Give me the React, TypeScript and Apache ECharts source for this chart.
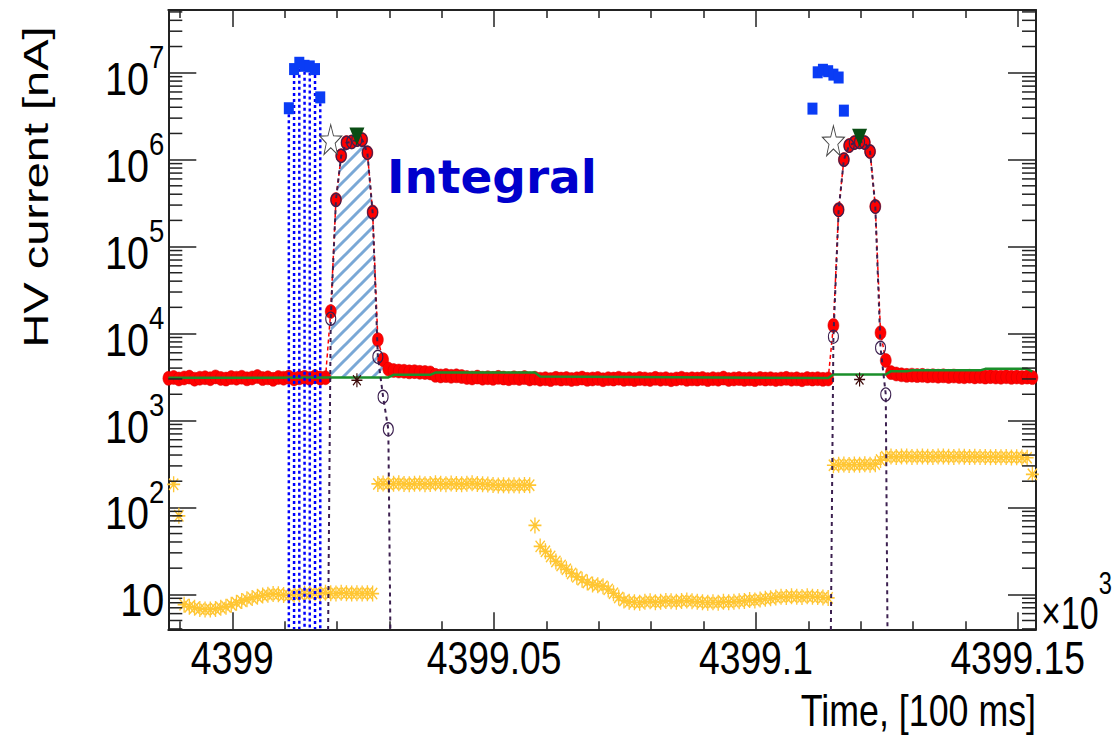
import React, { useEffect, useRef } from 'react';
import * as echarts from 'echarts';

// ---------- axes ----------
const X_MIN = 4398.98778;
const X_MAX = 4399.15349;
const Y_MIN = 3.96;
const Y_MAX = 5.26e7;
const xTickLabels = ['4399', '4399.05', '4399.1', '4399.15'];
const yTickExponents = [1, 2, 3, 4, 5, 6, 7];

// ---------- sampling (time of sample index i = T0 + i*DT) ----------
const T0 = 4398.9878;
const DT = 0.001;

// ---------- red: HV current (start index 0) ----------
const redPre = [3050, 3120, 3000, 3080, 3150, 2980, 3060, 3100, 3020, 3170, 3040, 2990, 3110, 3060, 3140, 3010, 3080, 3200, 3030, 3090, 2970, 3120, 3060, 3150, 3000, 3090, 3130, 3040, 3180, 3070, 3100];
const redPeak1 = [17900, 347000, 1110000, 1570000, 1600000, 1700000, 1700000, 1200000, 250000, 8500, 5000, 3900];
const redMid = [
  3750, 3700, 3680, 3620, 3640, 3580, 3560, 3520,
  3300, 3250, 3280, 3220, 3260, 3200,
  3120, 3080, 3150, 3060, 3100, 3050, 3130, 3070, 3020, 3090, 3040, 3110, 3000, 3060,
  2980, 3020, 2950, 3050, 2990, 3030, 2960, 3010,
  3070, 2970, 3000, 3040, 2940, 3020, 2990, 3060,
  2970, 3010, 2950, 3030, 3000, 2960, 3050, 2980,
  3020, 2940, 3000, 3060, 2970, 3010, 2990, 3040,
  2950, 3020, 2980, 3070, 2960, 3000, 3030, 2970,
  3010, 2950, 3040, 2990, 3020, 2960, 3000, 3050,
  2980, 3010, 2940, 3030, 2990, 3020, 2970, 3000,
];
const redPeak2 = [12400, 266000, 1000000, 1450000, 1570000, 1600000, 1570000, 1240000, 290000, 10200, 4900];
const redPost = [3550, 3420, 3350, 3300, 3320, 3280, 3300, 3250, 3270, 3230, 3260, 3210, 3240, 3200, 3180, 3220, 3170, 3200, 3150, 3190, 3160, 3140, 3180, 3130, 3160, 3120, 3150, 3110];

// ---------- green: baseline (sample index, value) ----------
const greenIdx = [0, 30, 42, 43, 50, 51, 70, 71, 126, 127, 137, 138, 141, 142, 155, 156, 164, 165];
const greenVal = [3100, 3110, 3120, 3350, 3350, 3550, 3550, 3200, 3080, 3380, 3380, 3690, 3690, 3770, 3770, 3920, 3920, 3650];

// ---------- baseline-subtracted pulses (open circles) ----------
const open1Start = 30;
const open1 = [0.001, 14800, 344000, 1107000, 1567000, 1597000, 1697000, 1697000, 1197000, 247000, 5400, 1870, 790, 0.001];
const open2Start = 126;
const open2 = [0.001, 9200, 263000, 997000, 1447000, 1567000, 1597000, 1567000, 1237000, 287000, 6850, 1990, 0.00001];

// ---------- blue squares ----------
const blue1Start = 23;
const blue1 = [3900000, 11000000, 13000000, 12000000, 11800000, 11000000, 5200000];
const blue2Start = 123;
const blue2 = [3860000, 10100000, 10800000, 10400000, 9500000, 8800000, 3660000];

// ---------- markers ----------
const starIdx = [31, 127];
const starVal = [1700000, 1650000];
const triIdx = [36, 132];
const triVal = [1850000, 1780000];
const astIdx = [36, 132];
const astVal = [2900, 2960];

// ---------- yellow (start index 1) ----------
const yelA = [184, 80];
const yelLow1 = [7.6, 7.2, 7.0, 6.8, 6.7, 6.7, 6.8, 7.0, 7.2, 7.6, 8.0, 8.4, 8.8, 9.1, 9.4, 9.7, 9.9, 10.1, 10.0, 9.8, 9.7, 9.9, 10.0, 10.2, 10.1, 10.3, 10.2, 10.4, 10.3, 10.2, 10.4, 10.3, 10.2, 10.3, 10.2, 10.3, 10.2];
const yelHigh1 = [186, 188, 185, 187, 189, 186, 184, 187, 188, 185, 186, 189, 187, 185, 188, 186, 184, 187, 189, 186, 185, 183, 181, 179, 180, 178, 180, 179, 181, 180];
const yelOne = [62];
const yelDecay = [35.6, 31.2, 27.3, 23.9, 21.5, 19.4, 17.4, 15.9, 14.7, 13.7, 13.0, 12.7, 12.4, 11.4, 10.3, 9.2, 8.5, 8.2];
const yelLow2 = [8.1, 8.0, 8.2, 8.3, 8.1, 8.2, 8.4, 8.3, 8.2, 8.4, 8.5, 8.3, 8.2, 8.1, 8.0, 8.1, 8.0, 8.2, 8.1, 8.2, 8.3, 8.4, 8.6, 8.5, 8.7, 8.9, 9.0, 9.2, 9.4, 9.3, 9.5, 9.4, 9.3, 9.5, 9.4, 9.3, 9.2, 9.1];
const yelHigh2 = [305, 310, 312, 308, 311, 309, 313, 310, 314, 350, 382, 385, 380, 384, 386, 381, 383, 385, 382, 380, 384, 386, 383, 381, 385, 382, 380, 383, 379, 381, 378, 380, 377, 379, 376, 378, 375, 372, 240];

// hatched integral region: red samples 31..41 above baseline
const hatchFrom = 31;
const hatchTo = 41;
const hatchBase = 3120;

const tOf = (i: number) => T0 + i * DT;
const pts = (start: number, vals: number[]) => vals.map((v, i) => [tOf(start + i), v]);

const STAR = 'path://M0,-10L2.35,-3.24L9.51,-3.09L3.8,1.24L5.88,8.09L0,4L-5.88,8.09L-3.8,1.24L-9.51,-3.09L-2.35,-3.24Z';
const ASTER = 'path://M0,-10L0,10M-10,0L10,0M-7.07,-7.07L7.07,7.07M-7.07,7.07L7.07,-7.07';
const FRAME = '#222';
const SANS = "'Liberation Sans', Arial, sans-serif";

export default function App() {
  const ref = useRef<HTMLDivElement>(null);
  useEffect(() => {
    if (!ref.current) return;
    const chart = echarts.init(ref.current, undefined, { renderer: 'svg' });

    const cv = document.createElement('canvas');
    cv.width = 15; cv.height = 15;
    const ctx = cv.getContext('2d') as CanvasRenderingContext2D;
    ctx.strokeStyle = '#7aa8d6';
    ctx.lineWidth = 3;
    ctx.beginPath();
    ctx.moveTo(0, 15); ctx.lineTo(15, 0);
    ctx.moveTo(-3, 3); ctx.lineTo(3, -3);
    ctx.moveTo(12, 18); ctx.lineTo(18, 12);
    ctx.stroke();
    const pattern: any = { image: cv, repeat: 'repeat' };

    const red = pts(0, [...redPre, ...redPeak1, ...redMid, ...redPeak2, ...redPost]);
    const green = greenIdx.map((i, k) => [tOf(i), greenVal[k]]);
    const yellow = pts(1, [...yelA, ...yelLow1, ...yelHigh1, ...yelOne, ...yelDecay, ...yelLow2, ...yelHigh2]);
    const hatch: number[][] = [[tOf(hatchFrom), hatchBase]];
    for (let i = hatchFrom; i <= hatchTo; i++) hatch.push([tOf(i), red[i][1]]);
    hatch.push([tOf(hatchTo), hatchBase]);

    const minor: number[][] = [];
    for (let k = 0; k <= 7; k++) {
      for (let m = 2; m <= 9; m++) {
        const v = m * Math.pow(10, k);
        if (v > Y_MIN && v < Y_MAX) minor.push([X_MIN, v]);
      }
    }
    const xLabelData = xTickLabels.map((s) => [Number(s), Y_MIN]);
    const yLabelData = yTickExponents.map((e) => [X_MIN, Math.pow(10, e)]);

    const line = { show: true, onZero: false, lineStyle: { color: FRAME, width: 2 } };
    const xAxisBase = (pos: string) => ({
      type: 'value', min: X_MIN, max: X_MAX, splitNumber: 3, position: pos,
      axisLine: line,
      axisTick: { show: true, inside: true, length: 17, lineStyle: { color: FRAME, width: 1.5 } },
      minorTick: { show: true, splitNumber: 5, length: 8, lineStyle: { color: FRAME, width: 1.5 } },
      axisLabel: { show: false },
      splitLine: { show: false },
    });
    const yAxisBase = (pos: string) => ({
      type: 'log', logBase: 10, min: Y_MIN, max: Y_MAX, position: pos,
      axisLine: line,
      axisTick: { show: true, inside: true, length: 28, lineStyle: { color: FRAME, width: 1.5 } },
      axisLabel: { show: false },
      splitLine: { show: false },
    });

    const option: any = {
      animation: false,
      backgroundColor: '#fff',
      grid: { left: 168.3, right: 84, top: 10, bottom: 107.7 },
      xAxis: [xAxisBase('bottom'), xAxisBase('top')],
      yAxis: [yAxisBase('left'), yAxisBase('right')],
      series: [
        {
          type: 'custom', silent: true, clip: true, z: 1,
          data: hatch, encode: { x: 0, y: 1 },
          renderItem: (params: any, api: any) => {
            if (params.dataIndex !== 0) return null;
            const p = hatch.map((d) => api.coord(d));
            return { type: 'polygon', shape: { points: p }, style: { fill: pattern, stroke: 'none' } };
          },
        },
        {
          type: 'scatter', silent: true, z: 2, data: yellow,
          symbol: ASTER, symbolSize: [13, 16],
          itemStyle: { color: 'rgba(0,0,0,0)', borderColor: '#ffc633', borderWidth: 1.5, opacity: 1 },
        },
        {
          type: 'line', silent: true, z: 3, data: red, showAllSymbol: true,
          symbol: 'circle', symbolSize: [11, 14],
          itemStyle: { color: '#ff0000', borderColor: '#d00000', borderWidth: 0.5 },
          lineStyle: { color: '#ff0000', width: 1.5, type: [4, 3] },
        },
        {
          type: 'line', silent: true, z: 4, data: green, symbol: 'none',
          lineStyle: { color: '#1a8f2a', width: 2.5 },
        },
        {
          type: 'custom', silent: true, clip: true, z: 5,
          data: pts(blue1Start, blue1), encode: { x: 0, y: 1 },
          renderItem: (params: any, api: any) => {
            const p = api.coord([api.value(0), api.value(1)]);
            const cs = params.coordSys;
            return {
              type: 'line',
              shape: { x1: p[0], y1: p[1], x2: p[0], y2: cs.y + cs.height },
              style: { stroke: '#0000ff', lineWidth: 2.5, lineDash: [3, 3] },
            };
          },
        },
        ...[pts(open1Start, open1), pts(open2Start, open2)].map((d) => ({
          type: 'line', silent: true, z: 6, data: d, showAllSymbol: true,
          symbol: 'circle', symbolSize: [10, 13],
          itemStyle: { color: 'rgba(0,0,0,0)', borderColor: '#3c2050', borderWidth: 1.2 },
          lineStyle: { color: '#3c2050', width: 2, type: [4, 4] },
        })),
        {
          type: 'scatter', silent: true, z: 7,
          data: [...pts(blue1Start, blue1), ...pts(blue2Start, blue2)],
          symbol: 'rect', symbolSize: [10, 12], itemStyle: { color: '#0a3cf5', opacity: 1 },
        },
        {
          type: 'scatter', silent: true, z: 8,
          data: starIdx.map((i, k) => [tOf(i), starVal[k]]),
          symbol: STAR, symbolSize: [22, 30],
          itemStyle: { color: '#ffffff', borderColor: '#444', borderWidth: 1, opacity: 1 },
        },
        {
          type: 'scatter', silent: true, z: 8,
          data: triIdx.map((i, k) => [tOf(i), triVal[k]]),
          symbol: 'triangle', symbolRotate: 180, symbolSize: [15, 18],
          itemStyle: { color: '#0a4d14', opacity: 1 },
        },
        {
          type: 'scatter', silent: true, z: 8,
          data: astIdx.map((i, k) => [tOf(i), astVal[k]]),
          symbol: ASTER, symbolSize: [11, 14],
          itemStyle: { color: 'rgba(0,0,0,0)', borderColor: '#3d0a0a', borderWidth: 1.3, opacity: 1 },
        },
        {
          // minor log ticks on both frame sides
          type: 'custom', silent: true, clip: false, z: 10,
          data: minor, encode: { x: 0, y: 1 },
          renderItem: (params: any, api: any) => {
            const y = api.coord([api.value(0), api.value(1)])[1];
            const cs = params.coordSys;
            const st = { stroke: FRAME, lineWidth: 1.5 };
            return {
              type: 'group',
              children: [
                { type: 'line', shape: { x1: cs.x, y1: y, x2: cs.x + 14, y2: y }, style: st },
                { type: 'line', shape: { x1: cs.x + cs.width, y1: y, x2: cs.x + cs.width - 14, y2: y }, style: st },
              ],
            };
          },
        },
        {
          // x tick labels (condensed)
          type: 'custom', silent: true, clip: false, z: 10,
          data: xLabelData, encode: { x: 0, y: 1 },
          renderItem: (params: any, api: any) => {
            const x = api.coord([api.value(0), api.value(1)])[0];
            const cs = params.coordSys;
            return {
              type: 'text', x, y: cs.y + cs.height + 6, scaleX: 0.81,
              style: {
                text: xTickLabels[params.dataIndex], fontFamily: SANS, fontSize: 46, fill: '#000',
                align: 'center', verticalAlign: 'top',
              },
            };
          },
        },
        {
          // y tick labels 10^n (condensed)
          type: 'custom', silent: true, clip: false, z: 10,
          data: yLabelData, encode: { x: 0, y: 1 },
          renderItem: (params: any, api: any) => {
            const y = api.coord([api.value(0), api.value(1)])[1];
            const cs = params.coordSys;
            const e = yTickExponents[params.dataIndex];
            return {
              type: 'text', x: cs.x - 4, y: y + 6, scaleX: 0.86,
              style: {
                text: e === 1 ? '{b|10}' : '{b|10}{s|' + e + '}',
                align: 'right', verticalAlign: 'middle',
                rich: {
                  b: { fontFamily: SANS, fontSize: 46, lineHeight: 76, fill: '#000' },
                  s: { fontFamily: SANS, fontSize: 32, lineHeight: 32, verticalAlign: 'top', fill: '#000' },
                },
              },
            };
          },
        },
      ],
      graphic: [
        {
          type: 'text', x: 36, y: 187, rotation: Math.PI / 2, scaleY: 0.74,
          style: { text: 'HV current [nA]', fontFamily: SANS, fontSize: 47, fill: '#000', align: 'center', verticalAlign: 'middle' },
        },
        {
          type: 'text', x: 1036, y: 711, scaleX: 0.795,
          style: { text: 'Time, [100 ms]', fontFamily: SANS, fontSize: 45, fill: '#000', align: 'right', verticalAlign: 'middle' },
        },
        {
          type: 'text', x: 1041, y: 613, scaleX: 0.74,
          style: {
            text: '{b|×10}{s|3}', align: 'left', verticalAlign: 'middle',
            rich: {
              b: { fontFamily: SANS, fontSize: 46, lineHeight: 92, fill: '#000' },
              s: { fontFamily: SANS, fontSize: 32, lineHeight: 32, verticalAlign: 'top', fill: '#000' },
            },
          },
        },
        {
          type: 'text', x: 387, y: 176,
          style: { text: 'Integral', fontFamily: 'DejaVu Sans', fontWeight: 'bold', fontSize: 47, fill: '#0000cc', align: 'left', verticalAlign: 'middle' },
        },
      ],
    };
    chart.setOption(option);
    return () => chart.dispose();
  }, []);
  return <div ref={ref} style={{ position: 'fixed', left: 0, top: 0, width: 1120, height: 737, background: '#fff' }} />;
}
